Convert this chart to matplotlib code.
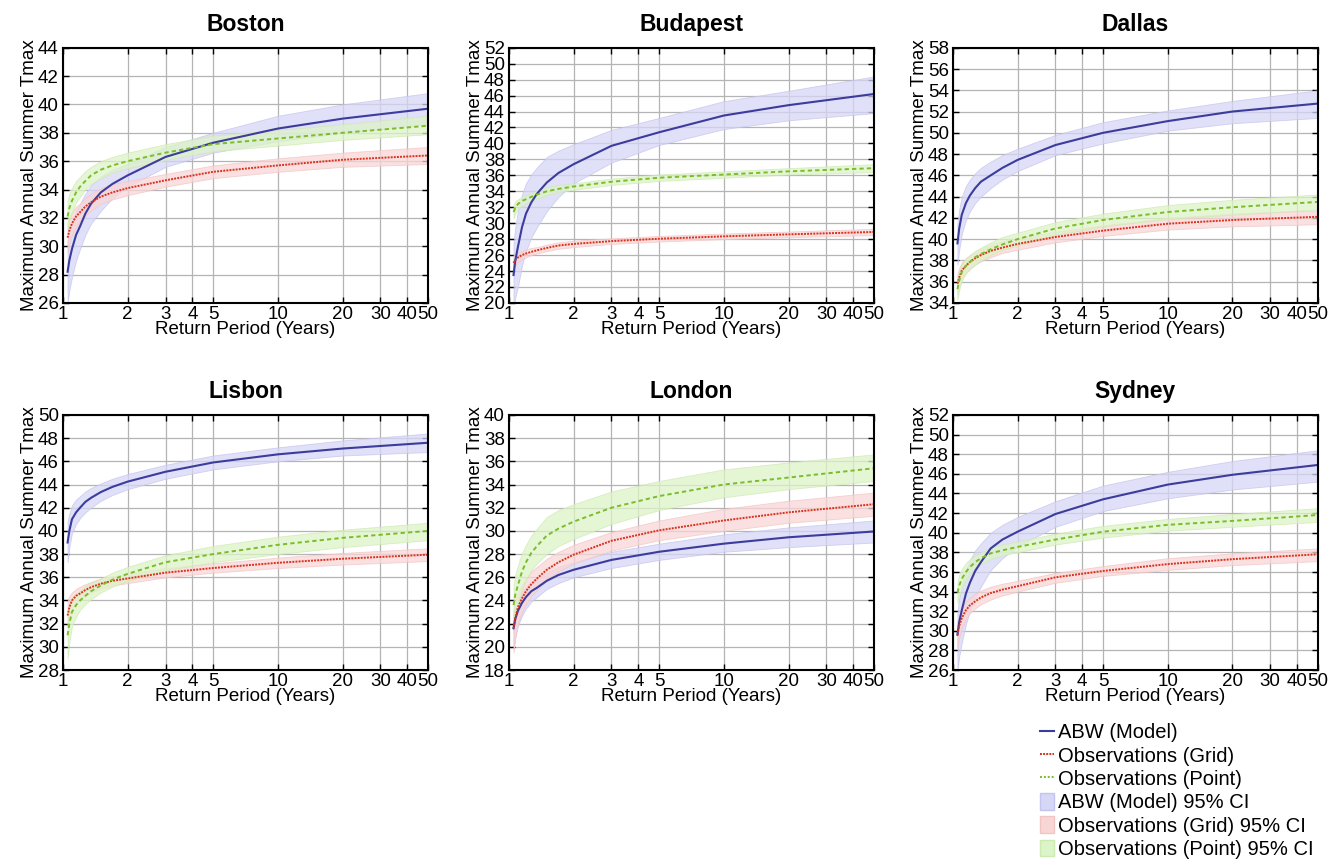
import numpy as np
import matplotlib
matplotlib.use("Agg")
import matplotlib.pyplot as plt
from matplotlib.ticker import FixedLocator, FixedFormatter, NullLocator
from matplotlib.patches import Patch
from matplotlib.lines import Line2D

plt.rcParams['font.family'] = ['Liberation Sans', 'DejaVu Sans']

T = [1.05, 1.07, 1.1, 1.15, 1.2, 1.27, 1.35, 1.5, 1.7, 2, 3, 5, 10, 20, 50]
xticks = [1, 2, 3, 4, 5, 10, 20, 30, 40, 50]
xticklabels = ['1', '2', '3', '4', '5', '10', '20', '30', '40', '50']

cities = ['Boston', 'Budapest', 'Dallas', 'Lisbon', 'London', 'Sydney']
ylims = [(26, 44), (20, 52), (34, 58), (28, 50), (18, 40), (26, 52)]

# Boston
boston_abw = [28.2, 29.0, 29.8, 30.8, 31.4, 32.3, 33.0, 33.8, 34.4, 35.0, 36.3, 37.3, 38.3, 39.0, 39.7]
boston_abw_lo = [26.0, 26.9, 27.8, 29.0, 29.8, 30.8, 31.6, 32.5, 33.4, 34.2, 35.6, 36.6, 37.4, 38.0, 38.6]
boston_abw_hi = [30.4, 31.0, 31.7, 32.5, 33.0, 33.7, 34.3, 34.9, 35.4, 35.8, 37.0, 38.0, 39.2, 40.0, 40.8]
boston_grid = [30.6, 31.1, 31.6, 32.1, 32.4, 32.8, 33.1, 33.5, 33.8, 34.1, 34.65, 35.25, 35.7, 36.1, 36.4]
boston_grid_lo = [29.6, 30.2, 30.8, 31.4, 31.8, 32.2, 32.5, 33.0, 33.3, 33.6, 34.2, 34.8, 35.25, 35.6, 35.8]
boston_grid_hi = [31.6, 32.0, 32.4, 32.8, 33.0, 33.4, 33.7, 34.1, 34.4, 34.6, 35.1, 35.7, 36.2, 36.6, 37.0]
boston_point = [32.1, 32.7, 33.2, 33.8, 34.2, 34.6, 35.0, 35.4, 35.7, 36.0, 36.6, 37.2, 37.6, 38.0, 38.5]
boston_point_lo = [31.2, 31.8, 32.4, 33.1, 33.5, 34.0, 34.4, 34.8, 35.2, 35.5, 36.1, 36.7, 37.1, 37.5, 37.9]
boston_point_hi = [33.2, 33.7, 34.1, 34.6, 34.9, 35.3, 35.6, 36.0, 36.3, 36.6, 37.2, 37.8, 38.2, 38.6, 39.2]

# Budapest
budapest_abw = [23.5, 25.3, 27.0, 29.5, 31.2, 32.6, 33.7, 35.1, 36.3, 37.4, 39.7, 41.4, 43.5, 44.8, 46.2]
budapest_abw_lo = [19.5, 20.7, 22.0, 24.7, 26.5, 28.2, 29.5, 31.5, 33.3, 35.0, 37.6, 39.8, 41.8, 42.9, 43.8]
budapest_abw_hi = [27.5, 29.5, 31.5, 33.6, 35.0, 36.1, 37.0, 38.3, 39.1, 39.9, 41.7, 43.2, 45.3, 46.6, 48.4]
budapest_grid = [25.0, 25.4, 25.7, 26.0, 26.2, 26.4, 26.6, 26.9, 27.2, 27.4, 27.75, 28.05, 28.35, 28.6, 28.9]
budapest_grid_lo = [24.2, 24.7, 25.1, 25.5, 25.7, 26.0, 26.2, 26.5, 26.8, 27.0, 27.4, 27.7, 28.0, 28.25, 28.5]
budapest_grid_hi = [25.8, 26.1, 26.3, 26.5, 26.7, 26.9, 27.0, 27.3, 27.6, 27.8, 28.1, 28.4, 28.7, 28.95, 29.3]
budapest_point = [31.4, 31.9, 32.4, 32.8, 33.0, 33.3, 33.6, 34.0, 34.3, 34.6, 35.2, 35.7, 36.1, 36.5, 36.9]
budapest_point_lo = [30.6, 31.2, 31.8, 32.2, 32.5, 32.8, 33.1, 33.5, 33.9, 34.2, 34.8, 35.3, 35.7, 36.1, 36.4]
budapest_point_hi = [32.3, 32.7, 33.0, 33.3, 33.5, 33.8, 34.1, 34.5, 34.8, 35.0, 35.6, 36.1, 36.5, 36.9, 37.4]

# Dallas
dallas_abw = [39.6, 41.0, 42.3, 43.4, 44.1, 44.8, 45.4, 46.0, 46.7, 47.45, 48.85, 50.0, 51.1, 52.0, 52.75]
dallas_abw_lo = [37.6, 39.0, 40.5, 41.8, 42.6, 43.4, 44.0, 44.8, 45.6, 46.4, 47.9, 49.0, 50.2, 50.9, 51.4]
dallas_abw_hi = [41.5, 42.8, 44.0, 45.0, 45.6, 46.2, 46.7, 47.3, 47.9, 48.5, 49.8, 51.0, 52.1, 53.0, 54.0]
dallas_grid = [35.8, 36.4, 37.05, 37.5, 37.85, 38.2, 38.5, 38.9, 39.2, 39.55, 40.2, 40.8, 41.45, 41.8, 42.1]
dallas_grid_lo = [34.8, 35.6, 36.3, 36.8, 37.2, 37.6, 37.9, 38.3, 38.7, 39.0, 39.7, 40.3, 40.9, 41.2, 41.4]
dallas_grid_hi = [36.8, 37.3, 37.8, 38.2, 38.5, 38.8, 39.1, 39.5, 39.8, 40.1, 40.7, 41.3, 42.0, 42.4, 42.7]
dallas_point = [35.3, 36.1, 36.9, 37.5, 37.85, 38.3, 38.6, 39.05, 39.5, 40.0, 41.0, 41.8, 42.55, 43.0, 43.5]
dallas_point_lo = [34.3, 35.2, 36.1, 36.8, 37.2, 37.6, 38.0, 38.5, 39.0, 39.4, 40.4, 41.2, 41.9, 42.3, 42.8]
dallas_point_hi = [36.3, 37.0, 37.7, 38.2, 38.5, 38.9, 39.2, 39.7, 40.2, 40.6, 41.6, 42.4, 43.2, 43.7, 44.2]

# Lisbon
lisbon_abw = [39.0, 40.0, 41.0, 41.6, 42.0, 42.5, 42.85, 43.35, 43.8, 44.25, 45.1, 45.9, 46.6, 47.1, 47.6]
lisbon_abw_lo = [37.3, 38.6, 39.8, 40.6, 41.1, 41.6, 42.0, 42.6, 43.1, 43.6, 44.5, 45.3, 46.0, 46.5, 46.8]
lisbon_abw_hi = [40.8, 41.5, 42.2, 42.7, 43.0, 43.4, 43.7, 44.1, 44.5, 44.9, 45.7, 46.5, 47.2, 47.8, 48.4]
lisbon_grid = [32.7, 33.4, 34.0, 34.4, 34.6, 34.9, 35.15, 35.45, 35.7, 35.9, 36.4, 36.8, 37.25, 37.6, 37.95]
lisbon_grid_lo = [31.7, 32.5, 33.3, 33.8, 34.1, 34.4, 34.7, 35.0, 35.3, 35.5, 36.0, 36.4, 36.8, 37.1, 37.4]
lisbon_grid_hi = [34.0, 34.4, 34.7, 35.0, 35.2, 35.4, 35.6, 35.9, 36.1, 36.3, 36.8, 37.2, 37.7, 38.1, 38.5]
lisbon_point = [31.0, 32.0, 33.0, 33.6, 34.0, 34.4, 34.8, 35.3, 35.8, 36.3, 37.3, 38.0, 38.8, 39.4, 40.0]
lisbon_point_lo = [29.0, 30.4, 31.8, 32.6, 33.2, 33.7, 34.1, 34.7, 35.2, 35.7, 36.6, 37.3, 38.0, 38.6, 39.2]
lisbon_point_hi = [33.0, 33.6, 34.2, 34.6, 34.8, 35.2, 35.5, 35.9, 36.4, 36.9, 37.9, 38.7, 39.5, 40.1, 40.7]

# London
london_abw = [21.6, 22.4, 23.1, 23.8, 24.3, 24.8, 25.1, 25.7, 26.2, 26.65, 27.5, 28.2, 28.9, 29.45, 29.95]
london_abw_lo = [19.8, 20.8, 21.8, 22.7, 23.3, 23.9, 24.3, 25.0, 25.5, 26.0, 26.8, 27.5, 28.2, 28.6, 29.0]
london_abw_hi = [22.9, 23.6, 24.2, 24.8, 25.2, 25.6, 25.9, 26.4, 26.9, 27.3, 28.2, 28.9, 29.7, 30.3, 30.9]
london_grid = [21.6, 22.5, 23.4, 24.2, 24.8, 25.4, 25.9, 26.65, 27.3, 27.95, 29.15, 30.05, 30.9, 31.6, 32.3]
london_grid_lo = [19.5, 20.8, 22.0, 23.0, 23.7, 24.4, 24.9, 25.8, 26.5, 27.2, 28.3, 29.2, 30.0, 30.7, 31.3]
london_grid_hi = [23.2, 23.9, 24.6, 25.4, 25.9, 26.5, 26.9, 27.6, 28.2, 28.8, 29.9, 30.9, 31.9, 32.6, 33.3]
london_point = [23.6, 24.5, 25.3, 26.5, 27.3, 28.1, 28.7, 29.6, 30.2, 30.8, 32.0, 33.0, 34.0, 34.6, 35.4]
london_point_lo = [22.0, 22.9, 23.8, 25.0, 25.8, 26.6, 27.2, 28.0, 28.7, 29.3, 30.6, 31.8, 32.9, 33.6, 34.3]
london_point_hi = [25.3, 26.2, 27.0, 28.1, 28.8, 29.6, 30.2, 31.2, 31.8, 32.3, 33.4, 34.3, 35.3, 35.9, 36.6]

# Sydney
sydney_abw = [29.6, 30.9, 32.1, 33.8, 34.9, 36.1, 37.0, 38.4, 39.3, 40.1, 41.9, 43.4, 44.9, 45.9, 46.9]
sydney_abw_lo = [26.0, 27.4, 28.8, 30.7, 32.0, 33.4, 34.5, 36.2, 37.4, 38.6, 40.6, 42.2, 43.5, 44.4, 45.2]
sydney_abw_hi = [32.0, 33.3, 34.6, 36.2, 37.2, 38.2, 38.9, 40.0, 40.8, 41.6, 43.2, 44.8, 46.2, 47.3, 48.4]
sydney_grid = [29.6, 30.5, 31.3, 32.1, 32.6, 33.0, 33.4, 33.85, 34.2, 34.55, 35.45, 36.1, 36.8, 37.3, 37.8]
sydney_grid_lo = [28.3, 29.3, 30.3, 31.2, 31.8, 32.3, 32.7, 33.2, 33.6, 34.0, 34.9, 35.6, 36.2, 36.7, 37.1]
sydney_grid_hi = [30.9, 31.6, 32.3, 33.0, 33.4, 33.8, 34.1, 34.5, 34.8, 35.1, 35.9, 36.6, 37.4, 37.9, 38.4]
sydney_point = [33.9, 34.6, 35.3, 36.0, 36.5, 37.0, 37.4, 37.9, 38.2, 38.55, 39.3, 40.1, 40.8, 41.2, 41.8]
sydney_point_lo = [32.8, 33.6, 34.4, 35.2, 35.8, 36.4, 36.8, 37.3, 37.7, 38.0, 38.8, 39.5, 40.2, 40.6, 41.1]
sydney_point_hi = [35.0, 35.7, 36.3, 36.9, 37.3, 37.7, 38.0, 38.5, 38.8, 39.1, 39.9, 40.7, 41.4, 41.9, 42.5]

abw = [boston_abw, budapest_abw, dallas_abw, lisbon_abw, london_abw, sydney_abw]
abw_lo = [boston_abw_lo, budapest_abw_lo, dallas_abw_lo, lisbon_abw_lo, london_abw_lo, sydney_abw_lo]
abw_hi = [boston_abw_hi, budapest_abw_hi, dallas_abw_hi, lisbon_abw_hi, london_abw_hi, sydney_abw_hi]
grid = [boston_grid, budapest_grid, dallas_grid, lisbon_grid, london_grid, sydney_grid]
grid_lo = [boston_grid_lo, budapest_grid_lo, dallas_grid_lo, lisbon_grid_lo, london_grid_lo, sydney_grid_lo]
grid_hi = [boston_grid_hi, budapest_grid_hi, dallas_grid_hi, lisbon_grid_hi, london_grid_hi, sydney_grid_hi]
point = [boston_point, budapest_point, dallas_point, lisbon_point, london_point, sydney_point]
point_lo = [boston_point_lo, budapest_point_lo, dallas_point_lo, lisbon_point_lo, london_point_lo, sydney_point_lo]
point_hi = [boston_point_hi, budapest_point_hi, dallas_point_hi, lisbon_point_hi, london_point_hi, sydney_point_hi]

c_abw = '#3c3c9c'
c_grid = '#d8321e'
c_point = '#7cbc2c'
f_abw = '#d6d6f6'
f_grid = '#f9d6d6'
f_point = '#ddf3c8'

fig = plt.figure(figsize=(13.44, 8.68), dpi=100)

lefts = [0.0469, 0.3787, 0.709]
bottoms = [0.651, 0.228]
w, h = 0.2716, 0.294

for i, city in enumerate(cities):
    ax = fig.add_axes([lefts[i % 3], bottoms[i // 3], w, h])
    ax.fill_between(T, abw_lo[i], abw_hi[i], color=f_abw, alpha=0.75, lw=0.6, edgecolor='#c4c4ee')
    ax.fill_between(T, grid_lo[i], grid_hi[i], color=f_grid, alpha=0.75, lw=0.6, edgecolor='#f2c4c4')
    ax.fill_between(T, point_lo[i], point_hi[i], color=f_point, alpha=0.75, lw=0.6, edgecolor='#cdeab0')
    ax.plot(T, abw[i], color=c_abw, lw=1.5, ls='-')
    ax.plot(T, grid[i], color=c_grid, lw=1.4, ls=(0, (1, 0.6)))
    ax.plot(T, point[i], color=c_point, lw=1.4, ls=(0, (2.2, 1.6)))

    ax.set_xscale('log')
    ax.set_xlim(1, 50)
    ax.set_ylim(*ylims[i])
    ax.xaxis.set_major_locator(FixedLocator(xticks))
    ax.xaxis.set_major_formatter(FixedFormatter(xticklabels))
    ax.xaxis.set_minor_locator(NullLocator())
    ax.set_yticks(np.arange(ylims[i][0], ylims[i][1] + 1, 2))
    ax.grid(True, color='#b4b4b4', lw=0.9)
    ax.set_axisbelow(True)
    ax.tick_params(direction='in', top=True, right=True, length=4, width=1, labelsize=13.5)
    ax.tick_params(axis='x', pad=2)
    ax.tick_params(axis='y', pad=3)
    for s in ax.spines.values():
        s.set_linewidth(1.5)
    ax.set_title(city, fontsize=16.5, fontweight='bold', pad=12)
    ax.set_xlabel('Return Period (Years)', fontsize=13.5, labelpad=-1)
    ax.set_ylabel('Maximum Annual Summer Tmax', fontsize=13.5, labelpad=0)

handles = [
    Line2D([], [], color=c_abw, lw=1.5, ls='-'),
    Line2D([], [], color=c_grid, lw=1.4, ls=(0, (1, 0.6))),
    Line2D([], [], color=c_point, lw=1.4, ls=(0, (1, 1))),
    Patch(facecolor=f_abw, edgecolor='#c4c4ee'),
    Patch(facecolor=f_grid, edgecolor='#f2c4c4'),
    Patch(facecolor=f_point, edgecolor='#cdeab0'),
]
labels = ['ABW (Model)', 'Observations (Grid)', 'Observations (Point)',
          'ABW (Model) 95% CI', 'Observations (Grid) 95% CI', 'Observations (Point) 95% CI']
fig.legend(handles, labels, loc='upper left', bbox_to_anchor=(1032 / 1344, 1 - 715 / 868),
           frameon=False, fontsize=14.5, handlelength=0.7, handleheight=0.9,
           handletextpad=0.2, labelspacing=0.2, borderaxespad=0)

fig.savefig('out.png', dpi=100)
